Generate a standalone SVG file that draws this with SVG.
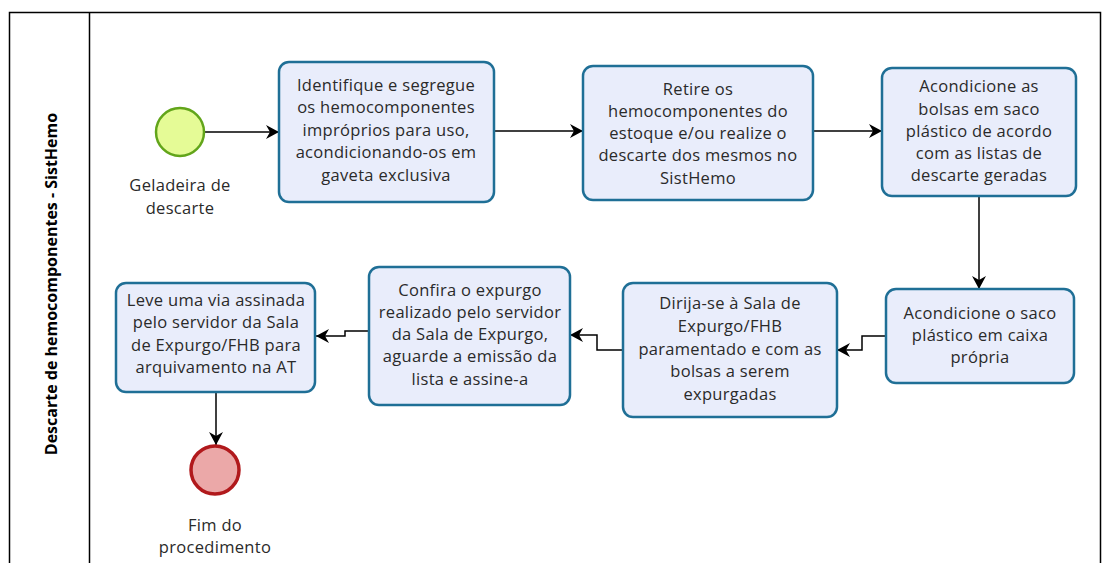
<svg xmlns="http://www.w3.org/2000/svg" width="1112" height="563" viewBox="0 0 1112 563">
<style>
.task{fill:#e9edfb;stroke:#1f6f96;stroke-width:2.5}
.t{font-family:"Open Sans","Liberation Sans",sans-serif;font-size:16.5px;letter-spacing:0.3px;fill:#2a2a2a;text-anchor:middle}
.c{fill:none;stroke:#000;stroke-width:1.5;marker-end:url(#ah)}
</style>
<defs>
<marker id="ah" markerWidth="14" markerHeight="14" refX="13" refY="7" orient="auto" markerUnits="userSpaceOnUse">
<path d="M0,0 L13,7 L0,14 L4,7 Z" fill="#000"/>
</marker>
</defs>
<rect x="0" y="0" width="1112" height="563" fill="#fff"/>
<g id="pool">
<rect x="9.5" y="12.5" width="1091" height="560" fill="none" stroke="#000" stroke-width="1.5"/>
<line x1="89.5" y1="12.5" x2="89.5" y2="563" stroke="#000" stroke-width="1.5"/>
<text transform="translate(57,284) rotate(-90)" style="font-family:'Open Sans','Liberation Sans',sans-serif;font-size:16px;font-weight:bold;text-anchor:middle;fill:#000">Descarte de hemocomponentes - SistHemo</text>
</g>
<g id="connectors">
<path class="c" d="M204,132 H279"/>
<path class="c" d="M494,131 H583"/>
<path class="c" d="M813,131 H882"/>
<path class="c" d="M979,196 V289"/>
<path class="c" d="M886,336 H862 V350 H837"/>
<path class="c" d="M623,350 H597 V335 H570"/>
<path class="c" d="M369,331 H345 V336 H316"/>
<path class="c" d="M216,392 V445"/>
</g>
<g id="start">
<circle cx="180" cy="132" r="24" fill="#e5fb96" stroke="#62a51a" stroke-width="2.5"/>
<text class="t" x="180" y="191">Geladeira de</text>
<text class="t" x="180" y="214">descarte</text>
</g>
<g id="task1">
<rect class="task" x="279" y="62" width="215" height="140" rx="10"/>
<text class="t" x="386" y="91">Identifique e segregue</text>
<text class="t" x="386" y="113">os hemocomponentes</text>
<text class="t" x="386" y="136">impróprios para uso,</text>
<text class="t" x="386" y="158">acondicionando-os em</text>
<text class="t" x="386" y="181">gaveta exclusiva</text>
</g>
<g id="task2">
<rect class="task" x="583" y="66" width="230" height="134" rx="10"/>
<text class="t" x="698" y="95">Retire os</text>
<text class="t" x="698" y="117">hemocomponentes do</text>
<text class="t" x="698" y="139">estoque e/ou realize o</text>
<text class="t" x="698" y="161">descarte dos mesmos no</text>
<text class="t" x="698" y="184">SistHemo</text>
</g>
<g id="task3">
<rect class="task" x="882" y="68" width="194" height="128" rx="10"/>
<text class="t" x="979" y="92">Acondicione as</text>
<text class="t" x="979" y="115">bolsas em saco</text>
<text class="t" x="979" y="137">plástico de acordo</text>
<text class="t" x="979" y="159">com as listas de</text>
<text class="t" x="979" y="181">descarte geradas</text>
</g>
<g id="task4">
<rect class="task" x="886" y="289" width="188" height="94" rx="10"/>
<text class="t" x="980" y="319">Acondicione o saco</text>
<text class="t" x="980" y="341">plástico em caixa</text>
<text class="t" x="980" y="363">própria</text>
</g>
<g id="task5">
<rect class="task" x="623" y="283" width="214" height="134" rx="10"/>
<text class="t" x="730" y="309">Dirija-se à Sala de</text>
<text class="t" x="730" y="332">Expurgo/FHB</text>
<text class="t" x="730" y="355">paramentado e com as</text>
<text class="t" x="730" y="377">bolsas a serem</text>
<text class="t" x="730" y="400">expurgadas</text>
</g>
<g id="task6">
<rect class="task" x="369" y="267" width="201" height="138" rx="10"/>
<text class="t" x="470" y="296">Confira o expurgo</text>
<text class="t" x="470" y="318">realizado pelo servidor</text>
<text class="t" x="470" y="340">da Sala de Expurgo,</text>
<text class="t" x="470" y="362">aguarde a emissão da</text>
<text class="t" x="470" y="385">lista e assine-a</text>
</g>
<g id="task7">
<rect class="task" x="116" y="283" width="199" height="109" rx="10"/>
<text class="t" x="216" y="306">Leve uma via assinada</text>
<text class="t" x="216" y="328">pelo servidor da Sala</text>
<text class="t" x="216" y="351">de Expurgo/FHB para</text>
<text class="t" x="216" y="373">arquivamento na AT</text>
</g>
<g id="end">
<circle cx="215" cy="470" r="24" fill="#eba8a8" stroke="#b1191c" stroke-width="3.5"/>
<text class="t" x="215" y="531">Fim do</text>
<text class="t" x="215" y="553">procedimento</text>
</g>
</svg>
